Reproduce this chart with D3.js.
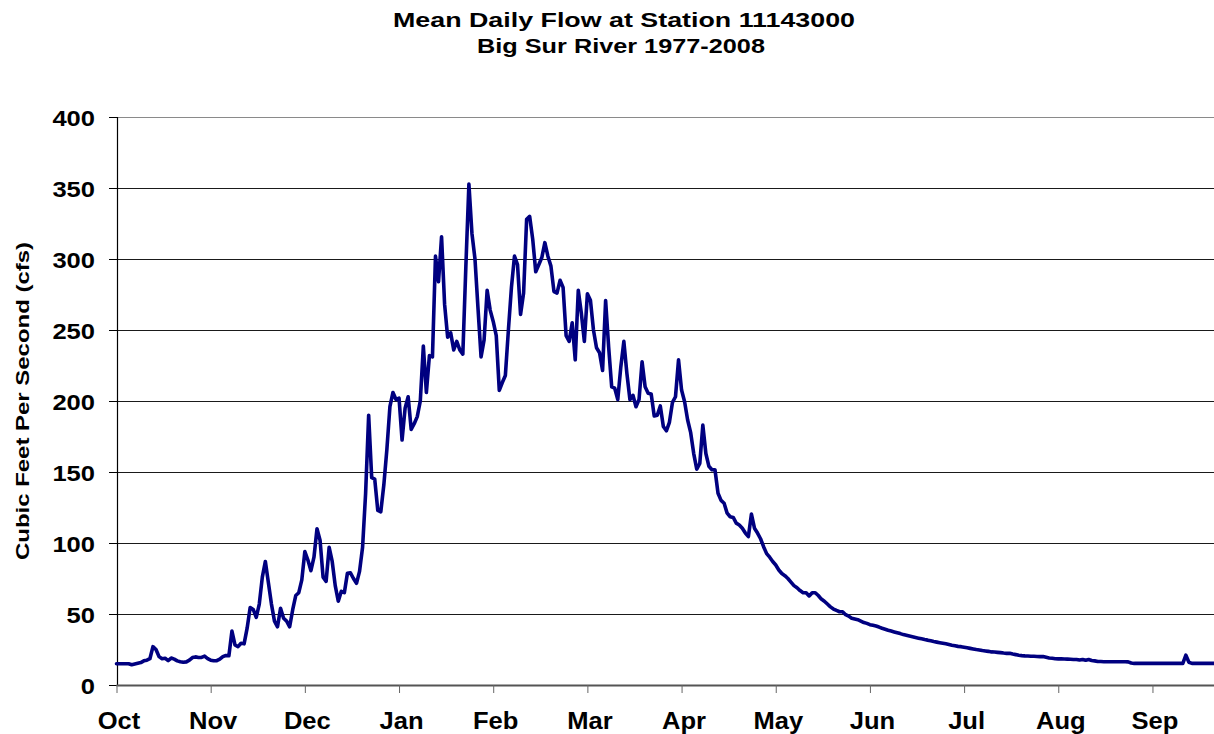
<!DOCTYPE html>
<html><head><meta charset="utf-8">
<script src="https://cdn.jsdelivr.net/npm/d3@7"></script>
<style>
body{margin:0;background:#fff;}
svg{display:block;font-family:"Liberation Sans",Arial,sans-serif;font-weight:bold;}
</style>
</head><body>
<svg id="chart" width="1214" height="734"></svg>
<script>
const title1 = "Mean Daily Flow at Station 11143000";
const title2 = "Big Sur River 1977-2008";
const yTitle = "Cubic Feet Per Second (cfs)";
const monthLabels = ["Oct","Nov","Dec","Jan","Feb","Mar","Apr","May","Jun","Jul","Aug","Sep"];
const monthTickDays = [0,31,62,93,124,155,186,217,248,279,310,341];
const yTickValues = [0,50,100,150,200,250,300,350,400];

// mean daily flow (cfs), water year day by day
const flowOct = [15,15,15,15,15,14.3,14.8,15.3,15.8,17,17.5,18.5,27,25,20,18.5,18.8,17.2,19,18.2,17,16.4,16,16.3,17.5,19.3,19.8,19.4,19.4,20.3,18.6];
const flowNov = [17.5,17.1,17.1,18.2,20,20.8,20.6,38,28.2,27,29.4,29,40,54.6,53.2,47.6,57,76,87,72,57,45,41,54,47,45,41,53,63,65];
const flowDec = [74,94,88,80.5,90,110,102,76,73,97,87,70,59,66,65,78.6,79,75,71.6,80,97,135,190,146,145,123,122,141,166,196,206];
const flowJan = [201,202,172.5,195,203,180,184,189,200,238.7,206,232,231,302,284,315.7,268,245,248,236,242,236,233,295,352.8,318,300,265,231,243,278];
const flowFeb = [264,256,246,207.5,213,218,250,280,302,296,261,276,328,330,314,291,296,301,311.5,302,295,277,276,285,280,246,242,255];
const flowMar = [229,278,262,242,275.5,271,250,237.5,234,221.5,270.7,238,210,209,201,224,242,219.5,201,204,196,201,227.6,210,205.4,205,189.4,190,196.5,182,179];
const flowApr = [185,199,203,229,207.7,199.5,186.6,177.7,163,152,156,183,163,154,151.6,151.6,135,130,128,121,118.5,118,114,112.7,110.4,107,104.5,120.4,110.4,107];
const flowMay = [103,97.4,92.5,90,87,84.5,81,78.5,77,75,72.5,70,68.5,66.5,65,65,62.7,65,65,63,60.5,59,57,55,53.5,52.5,51.6,51.6,49.5,48.5,47];
const flowJun = [46.5,46,45,44,43.4,42.5,42,41.5,40.8,40,39.3,38.6,38,37.4,36.8,36.2,35.5,35,34.5,34,33.5,33,32.5,32,31.6,31.1,30.6,30.2,29.8,29.4];
const flowJul = [29,28.5,28,27.6,27.2,27,26.6,26.2,25.8,25.4,25,24.7,24.3,24,23.7,23.3,23.2,23,22.8,22.5,22.3,22.3,21.8,21.4,21,20.7,20.5,20.4,20.3,20.2,20.1];
const flowAug = [20,20,19.5,19,18.8,18.5,18.4,18.4,18.3,18.2,18.1,18,18,17.6,18,17.4,18,17.3,17,16.6,16.5,16.4,16.4,16.4,16.4,16.4,16.4,16.4,16.4,16.3,15.5];
const flowSep = [15.2,15.2,15.2,15.2,15.2,15.2,15.2,15.2,15.2,15.2,15.2,15.2,15.2,15.2,15.2,15.2,15.2,21,16,15.2,15.2,15.2,15.2,15.2,15.2,15.2,15.2,15.2,15.2,15.2];

(function () {
const flow = [].concat(flowOct,flowNov,flowDec,flowJan,flowFeb,flowMar,flowApr,flowMay,flowJun,flowJul,flowAug,flowSep);

const W = 1214;
const plotLeft = 116.5, plotTop = 117, plotBottom = 685, dayPx = 3.038;
const svg = d3.select("#chart");

const x = d3.scaleLinear().domain([0, flow.length - 1]).range([plotLeft, plotLeft + dayPx * (flow.length - 1)]);
const y = d3.scaleLinear().domain([0, 400]).range([plotBottom, plotTop]);

// gridlines
svg.append("g").selectAll("line").data(yTickValues.filter(v => v > 0)).join("line")
  .attr("x1", plotLeft).attr("x2", W)
  .attr("y1", d => Math.round(y(d)) + 0.5).attr("y2", d => Math.round(y(d)) + 0.5)
  .attr("stroke", d => d === 400 ? "#8a8a8a" : "#1a1a1a").attr("stroke-width", 1);

// y axis
const yAxis = d3.axisLeft(y).tickValues(yTickValues).tickSize(8).tickFormat(d3.format("d"));
const gy = svg.append("g").attr("transform", `translate(${plotLeft + 0.5},0)`).call(yAxis);
gy.select(".domain").attr("stroke", "#000").attr("stroke-width", 1.2);
gy.selectAll(".tick line").attr("stroke", "#000");
gy.selectAll(".tick text").attr("fill", "#000").attr("font-size", 22).attr("font-family", "Liberation Sans, Arial, sans-serif")
  .attr("font-weight", "bold").attr("x", -22).attr("dy", null).attr("y", 8)
  .attr("textLength", d => String(d).length * 14.2).attr("lengthAdjust", "spacingAndGlyphs");

// x axis
const xAxis = d3.axisBottom(x).tickValues(monthTickDays).tickSize(8).tickFormat((d, i) => monthLabels[i]);
const gx = svg.append("g").attr("transform", `translate(0,${plotBottom})`).call(xAxis);
gx.select(".domain").attr("stroke", "#555").attr("stroke-width", 2.2).attr("d", `M${plotLeft},0.5H${W + 20}`);
gx.selectAll(".tick line").attr("stroke", "#666").attr("stroke-width", 1);
gx.selectAll(".tick text").attr("fill", "#000").attr("font-size", 23).attr("font-family", "Liberation Sans, Arial, sans-serif")
  .attr("font-weight", "bold").attr("dy", null).attr("y", 43.5).attr("x", 2)
  .each(function () { const w = this.getComputedTextLength(); d3.select(this).attr("textLength", w * 1.11).attr("lengthAdjust", "spacingAndGlyphs"); });

// line
const line = d3.line().x((d, i) => x(i)).y(d => y(d));
svg.append("path").datum(flow).attr("d", line)
  .attr("fill", "none").attr("stroke", "#000080").attr("stroke-width", 3.6)
  .attr("stroke-linejoin", "round").attr("stroke-linecap", "round");

// titles
svg.append("text").text(title1).attr("x", 624).attr("y", 27.3).attr("text-anchor", "middle")
  .attr("font-size", 20.5).attr("textLength", 462).attr("lengthAdjust", "spacingAndGlyphs");
svg.append("text").text(title2).attr("x", 621).attr("y", 53).attr("text-anchor", "middle")
  .attr("font-size", 20.5).attr("textLength", 288).attr("lengthAdjust", "spacingAndGlyphs");

svg.append("text").text(yTitle).attr("transform", `translate(29,${(plotTop + plotBottom) / 2}) rotate(-90)`)
  .attr("text-anchor", "middle").attr("font-size", 19).attr("textLength", 318).attr("lengthAdjust", "spacingAndGlyphs");
})();
</script>
</body></html>
